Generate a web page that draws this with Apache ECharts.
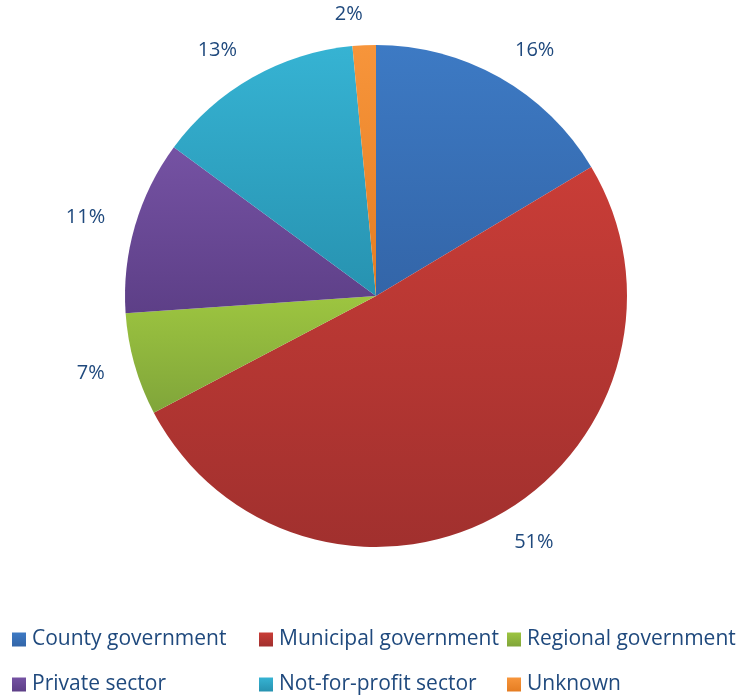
<!DOCTYPE html>
<html>
<head>
<meta charset="utf-8">
<script src="https://cdn.jsdelivr.net/npm/echarts@6/dist/echarts.min.js"></script>
<style>
html,body{margin:0;padding:0;background:#fff;}
#chart{width:738px;height:698px;}
</style>
</head>
<body>
<div id="chart"></div>
<script>
const categories = ['County government', 'Municipal government', 'Regional government', 'Private sector', 'Not-for-profit sector', 'Unknown'];
const values = [16.4, 50.9, 6.6, 11.2, 13.4, 1.5];
const pctLabels = ['16%', '51%', '7%', '11%', '13%', '2%'];
const topColors = ['#3d7ac4', '#c93d37', '#9dc540', '#7552a3', '#36b3d3', '#f7953b'];
const bottomColors = ['#3365a8', '#a1302e', '#80a53a', '#5d3f87', '#2792b0', '#e57d22'];

function grad(i) {
  return new echarts.graphic.LinearGradient(0, 0, 0, 1, [
    { offset: 0, color: topColors[i] },
    { offset: 1, color: bottomColors[i] }
  ]);
}

const chart = echarts.init(document.getElementById('chart'), null, { renderer: 'canvas' });
const legendPos = [
  [12, 629], [259, 629], [507, 629],
  [12, 674], [259, 674], [507, 674]
];
const legends = categories.map((c, i) => ({
  data: [c],
  left: legendPos[i][0],
  top: legendPos[i][1],
  padding: 0,
  itemWidth: 14,
  itemHeight: 14,
  icon: 'rect',
  selectedMode: false,
  textStyle: { fontFamily: 'Open Sans', fontSize: 21, color: '#1f497d', padding: [0, 0, 0, 1] }
}));

chart.setOption({
  animation: false,
  backgroundColor: '#ffffff',
  legend: legends,
  series: [{
    type: 'pie',
    center: [376, 296],
    radius: 251,
    startAngle: 90,
    clockwise: true,
    avoidLabelOverlap: false,
    data: categories.map((c, i) => ({
      name: c,
      value: values[i],
      itemStyle: { color: grad(i) }
    })),
    itemStyle: { borderWidth: 0 },
    emphasis: { disabled: true },
    label: {
      show: true,
      position: 'outside',
      formatter: p => pctLabels[p.dataIndex],
      fontFamily: 'Open Sans',
      fontSize: 20,
      color: '#1f497d',
      distanceToLabelLine: 0
    },
    labelLine: { show: false, length: 31, length2: 0 }
  }]
});
</script>
</body>
</html>
